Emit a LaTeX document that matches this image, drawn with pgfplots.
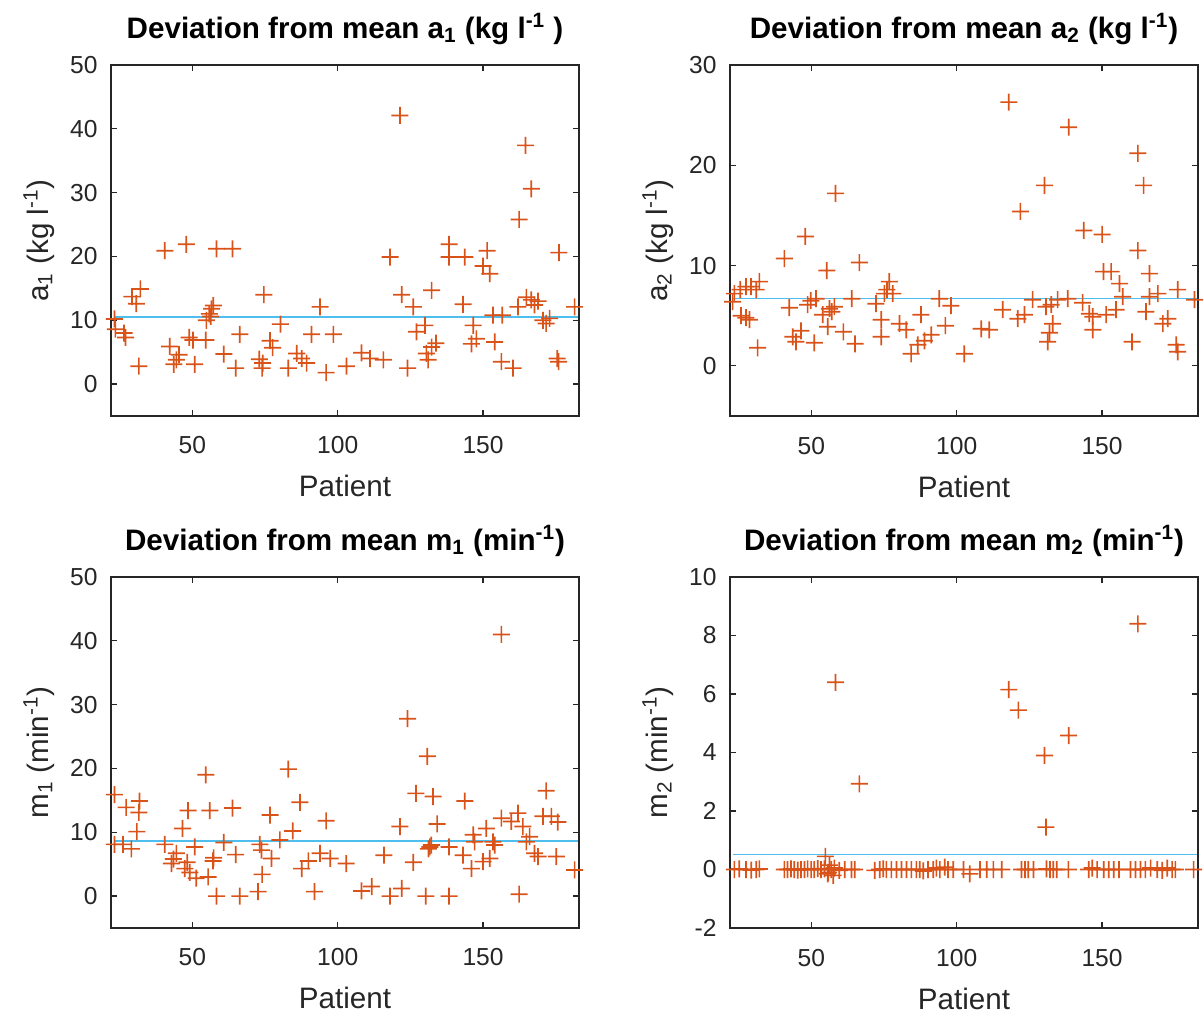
\documentclass[border=0pt]{standalone}
\usepackage{fontspec}
\setmainfont{Liberation Sans}
\usepackage{pgfplots}
\pgfplotsset{compat=1.18}

\definecolor{axgray}{RGB}{38,38,38}
\definecolor{mkred}{RGB}{217,83,25}
\definecolor{mnblue}{RGB}{77,190,238}

% plus sign built from two filled bars
\pgfdeclareplotmark{fplus}{%
  \pgfpathrectangle{\pgfqpoint{-\pgfplotmarksize}{-0.42pt}}{\pgfqpoint{2\pgfplotmarksize}{0.84pt}}%
  \pgfpathrectangle{\pgfqpoint{-0.42pt}{-\pgfplotmarksize}}{\pgfqpoint{0.84pt}{2\pgfplotmarksize}}%
  \pgfusepathqfill}

\pgfplotsset{
  devpanel/.style={
    scale only axis, width=234pt, height=175.5pt,
    xmin=22, xmax=183, xtick={50,100,150},
    clip=false,
    axis line style={axgray, line width=0.8pt},
    tick style={axgray, line width=0.6pt},
    major tick length=3pt,
    tick align=inside,
    /pgf/number format/assume math mode=true,
    tick label style={font=\fontsize{12.3}{14}\selectfont, text=axgray},
    xticklabel style={anchor=base, yshift=-19pt},
    yticklabel style={anchor=east, inner sep=0pt, xshift=-6.5pt},
    every axis x label/.style={at={(axis description cs:0.5,0)}, anchor=base,
      yshift=-40.5pt, font=\fontsize{14.8}{17}\selectfont, text=axgray},
    every axis y label/.style={at={(axis description cs:-0.1346,0.5)}, rotate=90,
      anchor=base, font=\fontsize{14.8}{17}\selectfont, text=axgray},
    every axis title/.style={at={(axis description cs:0.5,1)}, anchor=base,
      yshift=13.5pt, font=\bfseries\fontsize{14.8}{17}\selectfont, text=black},
    xlabel={Patient},
  },
  devmarks/.style={only marks, mark=fplus, mark size=4.25pt,
    mark options={solid, fill=mkred, draw=none}},
  devmean/.style={draw=mnblue, line width=0.8pt, no marks},
}

\begin{document}
\begin{tikzpicture}
\useasboundingbox (0,0) rectangle (602pt,-508.5pt);

% ---------------- a1 ----------------
\begin{axis}[devpanel, at={(55.5pt,-32.5pt)}, anchor=north west,
  ymin=-5, ymax=50, ytick={0,10,20,30,40,50},
  title={Deviation from mean a\textsubscript{1} (kg l\textsuperscript{-1} )},
  ylabel={a\textsubscript{1} (kg l\textsuperscript{-1})}]
\addplot[devmarks] coordinates {
(23.2,10.2) (23.5,8.6) (26.5,8.0) (27.0,7.3) (29.2,13.7) (32.1,14.9) (30.7,12.6)
(31.6,2.8) (40.5,20.9) (47.9,21.9) (58.3,21.2) (63.8,21.2) (42.2,5.9) (43.6,3.1)
(45.4,4.6) (44.5,3.8) (48.9,7.3) (50.2,6.9) (50.8,3.1) (54.6,6.9) (54.8,10.0)
(55.8,11.0) (56.6,11.8) (57.2,12.3) (56.3,10.6) (60.8,4.7) (64.9,2.5) (66.3,7.8)
(74.6,14.0) (73.0,3.9) (74.0,2.5) (74.2,3.3) (76.7,6.8) (77.6,5.7) (80.3,9.4)
(83.0,2.5) (85.9,4.8) (87.6,4.0) (89.3,3.3) (91.0,7.8) (98.5,7.8) (93.9,12.1)
(96.0,1.8) (103.0,2.8) (108.2,4.9) (111.1,4.0) (115.7,3.8) (121.4,42.1) (118.0,19.9)
(122.0,14.0) (126.0,12.1) (124.0,2.5) (132.3,14.7) (127.1,8.2) (130.0,9.2) (131.1,3.8)
(130.5,4.8) (132.3,5.8) (133.8,6.4) (138.3,21.9) (138.3,19.9) (143.7,19.9) (143.1,12.5)
(146.6,9.2) (146.0,6.3) (147.7,7.1) (151.4,20.9) (150.0,18.5) (152.3,17.3) (153.4,10.8)
(156.6,10.8) (154.0,6.6) (156.3,3.5) (160.3,2.5) (162.4,25.8) (164.6,37.4) (166.6,30.6)
(162.0,12.1) (164.9,13.6) (166.6,13.2) (168.9,13.0) (167.7,12.4) (170.6,10.0) (171.7,9.5)
(172.9,10.3) (176.1,20.6) (175.5,4.0) (176.0,3.5) (181.5,12.1)
};
\addplot[devmean] coordinates {(23,10.5) (182.5,10.5)};
\end{axis}

% ---------------- a2 ----------------
\begin{axis}[devpanel, at={(365pt,-32.5pt)}, anchor=north west,
  ymin=-5, ymax=30, ytick={0,10,20,30},
  title={Deviation from mean a\textsubscript{2} (kg l\textsuperscript{-1})},
  ylabel={a\textsubscript{2} (kg l\textsuperscript{-1})}]
\addplot[devmarks] coordinates {
(22.9,6.4) (23.5,7.2) (25.5,7.6) (27.5,7.9) (29.2,7.9) (31.0,7.6) (32.1,8.4)
(25.8,5.0) (28.7,4.6) (27.5,4.8) (31.5,1.8) (40.7,10.7) (42.4,5.8) (43.6,2.9)
(44.7,2.4) (46.4,3.5) (51.0,2.3) (47.9,12.9) (48.7,6.1) (49.8,6.5) (51.6,6.7)
(58.3,17.2) (55.3,9.5) (53.9,5.1) (56.2,5.7) (57.9,5.9) (55.6,3.9) (57.0,5.4)
(61.0,3.4) (63.9,6.7) (65.0,2.2) (66.5,10.3) (72.2,6.2) (74.0,4.6) (74.0,2.9)
(75.1,7.2) (76.8,8.4) (78.0,7.2) (76.0,7.6) (80.3,4.2) (82.6,3.6) (84.3,1.2)
(86.6,2.1) (88.9,2.5) (91.2,3.1) (87.7,5.1) (94.0,6.7) (96.1,4.0) (98.0,6.0)
(102.6,1.2) (108.4,3.7) (111.2,3.6) (117.9,26.3) (115.8,5.6) (121.0,4.7) (123.3,5.1)
(126.1,6.6) (121.9,15.4) (130.2,18.0) (138.5,23.8) (130.7,5.9) (132.5,6.1) (134.7,6.6)
(138.2,6.7) (133.0,4.2) (131.9,3.3) (131.3,2.4) (143.3,6.3) (143.7,13.5) (150.0,13.1)
(145.6,5.2) (146.8,4.9) (146.8,3.6) (151.4,5.1) (154.8,5.6) (150.5,9.4) (153.1,9.4)
(156.0,8.2) (157.1,6.9) (162.3,21.2) (164.3,18.0) (162.3,11.5) (160.3,2.4) (165.1,5.4)
(166.3,9.2) (166.3,6.9) (169.2,7.2) (176.0,7.6) (170.9,4.2) (172.6,4.7) (175.5,2.1)
(176.0,1.4) (181.8,6.6)
};
\addplot[devmean] coordinates {(23,6.73) (182.5,6.73)};
\end{axis}

% ---------------- m1 ----------------
\begin{axis}[devpanel, at={(55.5pt,-288.5pt)}, anchor=north west,
  ymin=-5, ymax=50, ytick={0,10,20,30,40,50},
  title={Deviation from mean m\textsubscript{1} (min\textsuperscript{-1})},
  ylabel={m\textsubscript{1} (min\textsuperscript{-1})}]
\addplot[devmarks] coordinates {
(23.2,15.9) (27.2,13.9) (31.8,14.9) (31.6,13.1) (30.9,10.1) (23.2,8.1) (26.1,8.1)
(29.0,7.4) (40.5,8.1) (42.8,5.1) (44.5,6.7) (43.5,5.8) (46.6,10.6) (48.5,13.4)
(47.4,4.3) (48.2,5.3) (49.1,3.7) (50.8,7.7) (51.3,2.8) (54.6,19.0) (56.0,13.4)
(55.4,3.0) (57.1,5.5) (57.3,6.0) (58.3,0.0) (60.8,8.4) (63.8,13.8) (64.9,6.5)
(66.3,0.0) (72.6,0.7) (73.2,8.1) (73.8,7.2) (74.0,3.4) (76.7,12.7) (77.2,5.9)
(80.1,8.8) (83.0,19.9) (84.5,10.2) (87.0,14.7) (87.6,4.3) (89.9,5.5) (92.0,0.7)
(93.9,6.7) (96.0,11.8) (97.4,5.9) (102.9,5.1) (108.2,0.8) (111.7,1.5) (115.9,6.4)
(118.0,0.0) (121.4,10.9) (122.0,1.2) (124.0,27.8) (126.0,5.3) (126.9,16.1) (130.3,0.0)
(130.8,21.9) (132.8,15.6) (131.7,7.7) (131.2,7.4) (132.2,8.0) (134.2,11.3) (138.3,7.7)
(138.3,0.0) (143.1,6.4) (143.7,14.9) (146.0,4.3) (146.6,9.6) (147.1,8.5) (150.0,5.4)
(152.3,5.9) (151.1,10.6) (153.4,8.5) (154.0,8.0) (156.3,12.2) (159.7,11.7) (162.0,13.0)
(162.4,0.3) (156.3,41.0) (163.7,10.9) (164.9,8.5) (166.0,9.3) (167.7,6.7) (168.9,6.2)
(171.7,16.5) (170.6,12.5) (173.5,12.5) (175.7,11.6) (175.2,6.2) (181.5,4.1)
};
\addplot[devmean] coordinates {(23,8.6) (182.5,8.6)};
\end{axis}

% ---------------- m2 ----------------
\begin{axis}[devpanel, at={(365pt,-288.5pt)}, anchor=north west,
  ymin=-2, ymax=10, ytick={-2,0,2,4,6,8,10},
  title={Deviation from mean m\textsubscript{2} (min\textsuperscript{-1})},
  ylabel={m\textsubscript{2} (min\textsuperscript{-1})}]
\addplot[devmarks] coordinates {
(23.5,0) (25.2,0.02) (27.5,0) (29.3,-0.02) (31.0,0) (32.1,0.02) (40.7,0)
(41.8,0) (43.0,0.02) (44.1,0) (45.3,-0.02) (46.4,0) (47.6,0) (48.7,0.02)
(49.9,0) (51.0,0) (52.2,0.03) (53.3,0) (54.5,0.02) (55.6,-0.15) (56.8,0)
(57.9,0.05) (59.6,-0.03) (61.5,0) (63.8,0) (64.9,0) (71.8,-0.03) (73.5,0)
(74.7,0.02) (75.8,0) (77.5,0) (79.3,0) (81.0,0) (82.7,0) (84.4,0)
(86.1,0) (87.3,0) (88.5,-0.05) (90.1,0) (91.9,0) (93.0,0.05) (94.2,0)
(95.9,0.08) (97.0,0) (98.8,0) (102.3,0) (104.5,-0.15) (108.0,0) (110.3,0)
(112.6,0) (115.5,0) (122.3,0) (123.5,0) (124.6,0) (126.4,0) (130.9,0.02)
(132.1,0) (133.2,0) (134.4,0) (138.4,0) (145.4,0) (146.6,0.05) (148.3,0)
(150.6,0) (152.3,0) (154.0,0) (155.8,0) (159.8,0) (161.5,0) (163.2,0)
(164.9,0) (166.7,0.05) (169.0,0) (170.7,-0.03) (172.4,0.05) (174.1,0) (175.2,0)
(181.5,0) (56.2,0.15) (57.5,-0.2) (55.8,-0.1) (54.8,0.45) (58.3,6.4) (66.5,2.93)
(117.9,6.15) (121.2,5.45) (138.5,4.58) (130.2,3.9) (130.7,1.45) (162.3,8.4)
};
\addplot[devmean] coordinates {(23,0.51) (182.5,0.51)};
\end{axis}
\end{tikzpicture}
\end{document}
